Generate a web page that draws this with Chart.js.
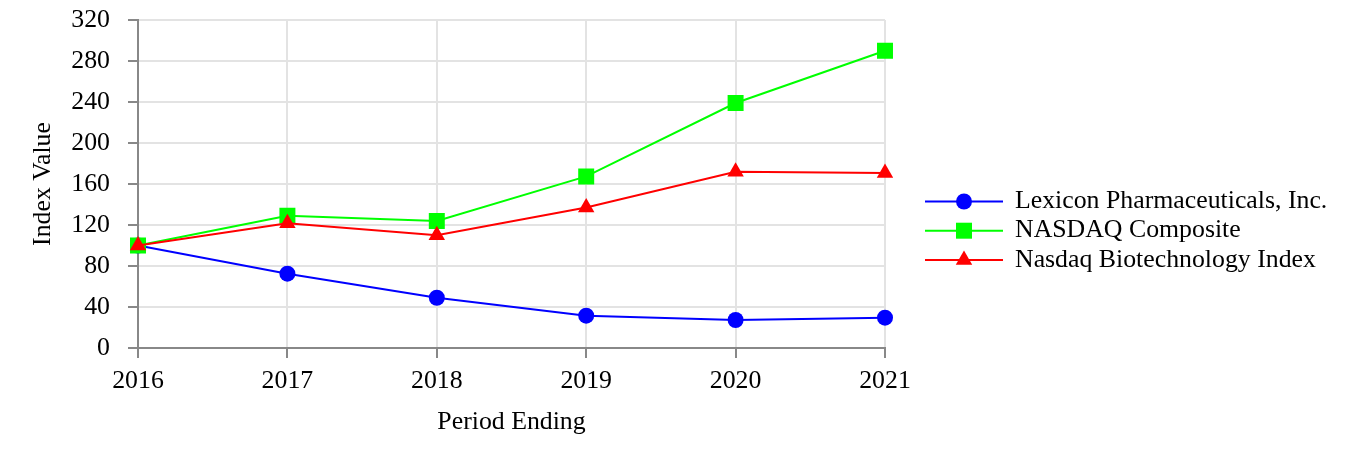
<!DOCTYPE html>
<html>
<head>
<meta charset="utf-8">
<script src="https://cdn.jsdelivr.net/npm/chart.js@4"></script>
<style>
html,body{margin:0;padding:0;background:#fff;}
#wrap{width:1364px;height:452px;position:relative;}
</style>
</head>
<body>
<div id="wrap"><canvas id="c" width="1364" height="452"></canvas></div>
<script>
const years = ['2016', '2017', '2018', '2019', '2020', '2021'];
const lexicon = [100, 72.5, 49, 31.5, 27.3, 29.6];
const nasdaq = [100, 129, 124, 167.4, 239, 290];
const nbi = [100, 121.6, 110, 137, 172, 170.7];
const seriesNames = ['Lexicon Pharmaceuticals, Inc.', 'NASDAQ Composite', 'Nasdaq Biotechnology Index'];
const yTicks = [0, 40, 80, 120, 160, 200, 240, 280, 320];

const FONT = "'Liberation Serif', 'Times New Roman', serif";
const FSIZE = 25.8;

const legendPlugin = {
  id: 'sideLegend',
  afterDraw(chart) {
    const ctx = chart.ctx;
    const ds = chart.data.datasets;
    const x0 = 925, lineW = 78, textX = 1015, rowH = 29.2, yStart = 201.5;
    ctx.save();
    ds.forEach((d, i) => {
      const y = yStart + i * rowH;
      ctx.strokeStyle = d.borderColor;
      ctx.lineWidth = 2;
      ctx.beginPath();
      ctx.moveTo(x0, y);
      ctx.lineTo(x0 + lineW, y);
      ctx.stroke();
      ctx.fillStyle = d.pointBackgroundColor;
      ctx.strokeStyle = d.pointBackgroundColor;
      ctx.lineWidth = 0.01;
      Chart.helpers.drawPoint(ctx, {pointStyle: d.pointStyle, radius: d.pointRadius, rotation: 0, borderWidth: 0}, x0 + lineW / 2, y);
      ctx.fillStyle = '#000';
      ctx.font = FSIZE + 'px ' + FONT;
      ctx.textBaseline = 'middle';
      ctx.textAlign = 'left';
      ctx.fillText(d.label, textX, y);
    });
    ctx.restore();
  }
};

function mk(label, data, color, style, r, order) {
  return {
    label, data, order,
    borderColor: color,
    backgroundColor: color,
    pointBackgroundColor: color,
    pointBorderColor: color,
    pointBorderWidth: 0,
    pointStyle: style,
    pointRadius: r,
    pointHoverRadius: r,
    borderWidth: 2,
    tension: 0,
    fill: false
  };
}

new Chart(document.getElementById('c'), {
  type: 'line',
  data: {
    labels: years,
    datasets: [
      mk(seriesNames[0], lexicon, '#0000ff', 'circle', 8, 3),
      mk(seriesNames[1], nasdaq, '#00ff00', 'rect', 11.3, 2),
      mk(seriesNames[2], nbi, '#ff0000', 'triangle', 9.5, 1)
    ]
  },
  options: {
    responsive: false,
    animation: false,
    devicePixelRatio: 1,
    layout: { padding: { top: 20, right: 479, left: 0, bottom: 0 } },
    plugins: { legend: { display: false }, tooltip: { enabled: false } },
    scales: {
      x: {
        offset: false,
        afterFit(axis) { axis.height = 104; axis.paddingLeft = 0; axis.paddingRight = 0; },
        grid: { color: '#e3e3e3', lineWidth: 2, tickLength: 10, tickColor: '#888' },
        border: { color: '#888', width: 2 },
        ticks: { color: '#000', font: { family: FONT, size: FSIZE }, padding: 8, maxRotation: 0 },
        title: { display: true, text: 'Period Ending', color: '#000', font: { family: FONT, size: FSIZE }, padding: { top: 0, bottom: 14.5 } }
      },
      y: {
        min: 0, max: 320,
        afterFit(axis) { axis.width = 138; axis.paddingTop = 0; axis.paddingBottom = 0; },
        afterBuildTicks(axis) { axis.ticks = yTicks.map(v => ({ value: v })); },
        grid: { color: '#e3e3e3', lineWidth: 2, tickLength: 10, tickColor: '#888' },
        border: { color: '#888', width: 2 },
        ticks: { color: '#000', font: { family: FONT, size: FSIZE }, padding: 18 },
        title: { display: true, text: 'Index Value', color: '#000', font: { family: FONT, size: FSIZE }, padding: { top: 28, bottom: 0 } }
      }
    }
  },
  plugins: [legendPlugin]
});
</script>
</body>
</html>
